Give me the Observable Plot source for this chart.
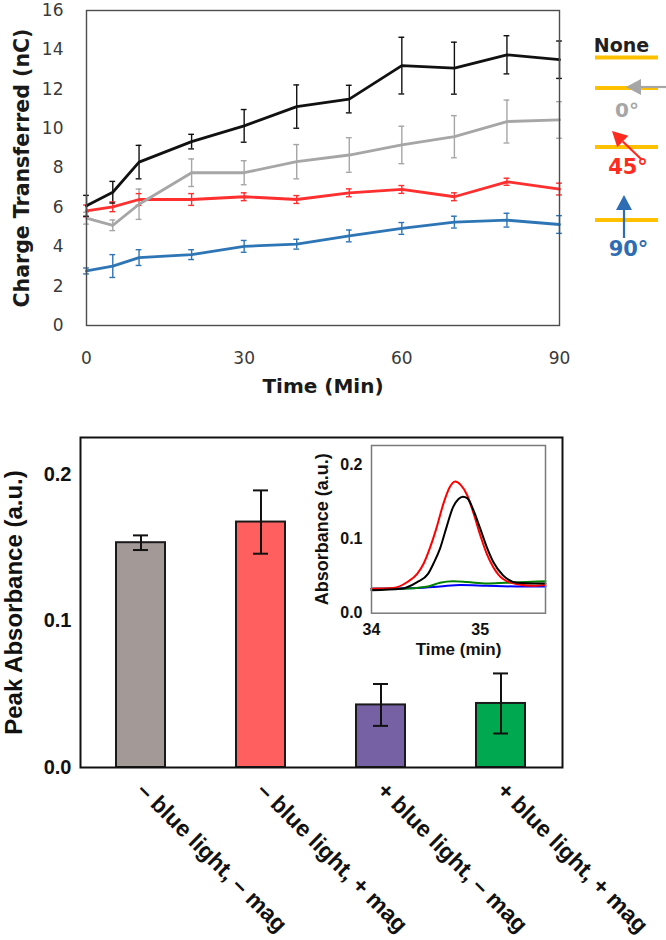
<!DOCTYPE html>
<html><head><meta charset="utf-8">
<script src="https://cdn.jsdelivr.net/npm/d3@7"></script>
<script src="https://cdn.jsdelivr.net/npm/@observablehq/plot@0.6"></script>
<style>
body{margin:0;background:#fff;}
#wrap{position:relative;width:666px;height:940px;overflow:hidden;background:#fff;}
#wrap > svg{position:absolute;}
</style></head><body><div id="wrap"></div>
<script>
// ---------- Top panel data: charge transferred (nC) vs time (min) ----------
const times = [0, 5, 10, 20, 30, 40, 50, 60, 70, 80, 90];
const seriesNames = ["90°", "45°", "0°", "None"];
const seriesColors = ["#2e75b6", "#ff2f2f", "#a6a6a6", "#111111"];
const deg90Mean = [2.77, 3.02, 3.45, 3.6, 4.02, 4.13, 4.55, 4.93, 5.25, 5.35, 5.13];
const deg90Err  = [0.15, 0.58, 0.4, 0.25, 0.3, 0.25, 0.3, 0.3, 0.3, 0.35, 0.45];
const deg45Mean = [5.82, 6.03, 6.4, 6.4, 6.54, 6.4, 6.74, 6.91, 6.54, 7.3, 6.93];
const deg45Err  = [0.3, 0.25, 0.3, 0.3, 0.2, 0.2, 0.2, 0.2, 0.2, 0.18, 0.3];
const deg0Mean  = [5.45, 5.09, 6.16, 7.76, 7.76, 8.32, 8.66, 9.17, 9.59, 10.36, 10.44];
const deg0Err   = [0.3, 0.27, 0.77, 0.7, 0.61, 0.87, 0.88, 0.95, 1.07, 1.09, 0.93];
const noneMean  = [6.08, 6.77, 8.3, 9.34, 10.14, 11.12, 11.5, 13.2, 13.07, 13.75, 13.5];
const noneErr   = [0.53, 0.55, 0.85, 0.37, 0.83, 1.1, 0.7, 1.44, 1.32, 0.97, 0.95];
const yTicksTop = [0, 2, 4, 6, 8, 10, 12, 14, 16];
const xTicksTop = [0, 30, 60, 90];

// ---------- Bottom panel data: peak absorbance ----------
const conditions = ["– blue light, – mag", "– blue light, + mag", "+ blue light, – mag", "+ blue light, + mag"];
const peakAbs = [0.1534, 0.1675, 0.0427, 0.0437];
const peakErr = [0.005, 0.0216, 0.0143, 0.0205];
const barColors = ["#a39a97", "#ff5f5f", "#7561a3", "#00a84f"];
const yTicksBottom = [0, 0.1, 0.2];

// ---------- Inset data: absorbance traces vs time (min) ----------
const traceNames = ["blue", "green", "red", "black"];
const traceColors = ["#3a3ab8", "#1f8c3d", "#ff2a1a", "#111111"];
const blueT  = [34.0, 34.42, 34.63, 34.82, 35.06, 35.34, 35.6];
const blueA  = [0.033, 0.034, 0.036, 0.038, 0.037, 0.036, 0.036];
const greenT = [34.0, 34.27, 34.52, 34.63, 34.75, 34.88, 35.06, 35.24, 35.43, 35.6];
const greenA = [0.033, 0.033, 0.036, 0.041, 0.043, 0.042, 0.040, 0.041, 0.042, 0.043];
const redT   = [34.0, 34.2, 34.33, 34.42, 34.48, 34.54, 34.60, 34.66, 34.72, 34.77, 34.82, 34.88, 34.94, 35.0, 35.06, 35.12, 35.21, 35.34, 35.49, 35.6];
const redA   = [0.033, 0.034, 0.042, 0.053, 0.067, 0.089, 0.116, 0.147, 0.170, 0.1775, 0.173, 0.159, 0.134, 0.105, 0.080, 0.062, 0.046, 0.039, 0.037, 0.038];
const blackT = [34.0, 34.27, 34.42, 34.52, 34.57, 34.63, 34.69, 34.75, 34.80, 34.84, 34.88, 34.94, 35.0, 35.06, 35.12, 35.21, 35.34, 35.49, 35.6];
const blackA = [0.031, 0.033, 0.042, 0.053, 0.067, 0.087, 0.116, 0.143, 0.154, 0.157, 0.155, 0.138, 0.114, 0.089, 0.069, 0.051, 0.041, 0.040, 0.040];
const insetXTicks = [34, 35];
const insetYTicks = [0, 0.1, 0.2];

// ---------- Legend labels ----------
const legendLabels = ["None", "0°", "45°", "90°"];
const legendColors = ["#231f20", "#a6a6a6", "#ff2a20", "#2e6db4"];

const wrap = document.getElementById("wrap");

// ================= TOP PANEL =================
const means = [deg90Mean, deg45Mean, deg0Mean, noneMean];
const errs = [deg90Err, deg45Err, deg0Err, noneErr];
const topRows = seriesNames.flatMap((s, k) => times.map((t, i) => ({series: s, t, v: means[k][i], e: errs[k][i]})));
const capTop = 0.55;

const topPlot = Plot.plot({
  width: 666, height: 410,
  marginLeft: 86, marginRight: 107, marginTop: 10, marginBottom: 85,
  style: {fontFamily: "DejaVu Sans, sans-serif", color: "#3a3a3a", background: "transparent"},
  x: {domain: [0, 90]},
  y: {domain: [0, 16]},
  color: {domain: seriesNames, range: seriesColors},
  marks: [
    Plot.axisX({ticks: xTicksTop, tickFormat: d => String(d), tickSize: 0, tickPadding: 26, fontSize: 17, label: null}),
    Plot.axisY({ticks: yTicksTop, tickFormat: d => String(d), tickSize: 0, tickPadding: 23, fontSize: 17, label: null}),
    Plot.ruleX(topRows, {x: "t", y1: d => d.v - d.e, y2: d => d.v + d.e, stroke: "series", strokeWidth: 1.4}),
    Plot.ruleY(topRows, {y: d => d.v + d.e, x1: d => d.t - capTop, x2: d => d.t + capTop, stroke: "series", strokeWidth: 1.4}),
    Plot.ruleY(topRows, {y: d => d.v - d.e, x1: d => d.t - capTop, x2: d => d.t + capTop, stroke: "series", strokeWidth: 1.4}),
    Plot.line(topRows, {x: "t", y: "v", z: "series", stroke: "series", strokeWidth: 2.8}),
    Plot.frame({stroke: "#4d4d4d", strokeWidth: 1.4}),
    Plot.text(["Time (Min)"], {text: d => d, frameAnchor: "bottom", textAnchor: "middle", dy: 67, fontSize: 20, fontWeight: "bold", fill: "#1a1a1a"}),
    Plot.text(["Charge Transferred (nC)"], {text: d => d, frameAnchor: "left", textAnchor: "middle", lineAnchor: "middle", rotate: -90, dx: -64, fontSize: 20.5, fontWeight: "bold", fill: "#1a1a1a"})
  ]
});
topPlot.style.left = "0px"; topPlot.style.top = "0px";
wrap.appendChild(topPlot);

// ================= LEGEND (top right) =================
const leg = d3.create("svg").attr("width", 666).attr("height", 280)
  .style("left", "0px").style("top", "0px")
  .style("font-family", "DejaVu Sans, sans-serif").style("font-weight", "bold");
const yellow = "#ffc000";
function arrow(x1, y1, x2, y2, color) {
  const len = Math.hypot(x2 - x1, y2 - y1), ux = (x2 - x1) / len, uy = (y2 - y1) / len;
  const hl = 15, hw = 8;
  const bx = x2 - ux * hl, by = y2 - uy * hl;
  leg.append("line").attr("x1", x1).attr("y1", y1).attr("x2", bx).attr("y2", by)
    .attr("stroke", color).attr("stroke-width", 2.2);
  leg.append("polygon").attr("points",
    `${x2},${y2} ${bx - uy * hw},${by + ux * hw} ${bx + uy * hw},${by - ux * hw}`).attr("fill", color);
}
function yline(y) {
  leg.append("line").attr("x1", 595).attr("x2", 658).attr("y1", y).attr("y2", y)
    .attr("stroke", yellow).attr("stroke-width", 4);
}
function label(txt, x, y, color, size) {
  leg.append("text").attr("x", x).attr("y", y).attr("text-anchor", "middle")
    .attr("dominant-baseline", "central").attr("fill", color).attr("font-size", size).text(txt);
}
label(legendLabels[0], 621.5, 45, legendColors[0], 19);
yline(57.5);
yline(88);
arrow(668, 87, 626, 87, legendColors[1]);
label(legendLabels[1], 627, 110, legendColors[1], 20);
yline(147);
arrow(641, 159, 612, 131, legendColors[2]);
label(legendLabels[2], 628, 167, legendColors[2], 21);
yline(220);
arrow(624, 238, 624, 195, legendColors[3]);
label(legendLabels[3], 628.5, 249, legendColors[3], 21);
wrap.appendChild(leg.node());

// ================= BOTTOM PANEL =================
const barRows = conditions.map((c, i) => ({cond: c, v: peakAbs[i], e: peakErr[i], color: barColors[i]}));
const bottomPlot = Plot.plot({
  width: 666, height: 520,
  marginLeft: 80, marginRight: 104, marginTop: 17, marginBottom: 173,
  style: {fontFamily: "Liberation Sans, Arial, sans-serif", color: "#111", background: "transparent"},
  x: {domain: conditions, paddingInner: 0.59, paddingOuter: 0.295, axis: null},
  y: {domain: [0, 0.2252]},
  marks: [
    Plot.barY(barRows, {x: "cond", y: "v", fill: "color", stroke: "#1a1a1a", strokeWidth: 2}),
    Plot.ruleX(barRows, {x: "cond", y1: d => d.v - d.e, y2: d => d.v + d.e, stroke: "#111", strokeWidth: 2}),
    Plot.tickY(barRows, {x: "cond", y: d => d.v + d.e, insetLeft: 17, insetRight: 17, stroke: "#111", strokeWidth: 2}),
    Plot.tickY(barRows, {x: "cond", y: d => d.v - d.e, insetLeft: 17, insetRight: 17, stroke: "#111", strokeWidth: 2}),
    Plot.frame({stroke: "#111", strokeWidth: 2}),
    Plot.axisY({ticks: yTicksBottom, tickFormat: d3.format(".1f"), tickSize: 0, tickPadding: 9, fontSize: 20, fontWeight: "bold", label: null}),
    Plot.text(barRows, {x: "cond", text: "cond", frameAnchor: "bottom", dy: 19, rotate: 45, textAnchor: "start", lineAnchor: "middle", fontSize: 23, fontWeight: "bold", fill: "#111"}),
    Plot.text(["Peak Absorbance (a.u.)"], {text: d => d, frameAnchor: "left", textAnchor: "middle", lineAnchor: "middle", rotate: -90, dx: -66, fontSize: 24, fontWeight: "bold", fill: "#111"})
  ]
});
bottomPlot.style.left = "0px"; bottomPlot.style.top = "420px";
wrap.appendChild(bottomPlot);

// ================= INSET =================
const traceT = [blueT, greenT, redT, blackT];
const traceA = [blueA, greenA, redA, blackA];
const insetRows = traceNames.flatMap((n, k) => traceT[k].map((t, i) => ({trace: n, t, a: traceA[k][i]})));
const insetPlot = Plot.plot({
  width: 260, height: 240,
  marginLeft: 71, marginRight: 15, marginTop: 15, marginBottom: 57.3,
  style: {fontFamily: "Liberation Sans, Arial, sans-serif", color: "#111", background: "transparent"},
  x: {domain: [34, 35.6]},
  y: {domain: [0, 0.226]},
  color: {domain: traceNames, range: traceColors},
  marks: [
    Plot.axisX({ticks: insetXTicks, tickFormat: d => String(d), tickSize: 0, tickPadding: 10, fontSize: 16, fontWeight: "bold", label: null}),
    Plot.axisY({ticks: insetYTicks, tickFormat: d3.format(".1f"), tickSize: 0, tickPadding: 9, fontSize: 16, fontWeight: "bold", label: null}),
    Plot.line(insetRows, {x: "t", y: "a", z: "trace", stroke: "trace", curve: "monotone-x", strokeWidth: 2}),
    Plot.frame({stroke: "#7a7a7a", strokeWidth: 1.5}),
    Plot.text(["Time (min)"], {text: d => d, frameAnchor: "bottom", textAnchor: "middle", dy: 42, fontSize: 17, fontWeight: "bold", fill: "#111"}),
    Plot.text(["Absorbance (a.u.)"], {text: d => d, frameAnchor: "left", textAnchor: "middle", lineAnchor: "middle", rotate: -90, dx: -49, fontSize: 18, fontWeight: "bold", fill: "#111"})
  ]
});
insetPlot.style.left = "300px"; insetPlot.style.top = "430px";
wrap.appendChild(insetPlot);
</script></body></html>
